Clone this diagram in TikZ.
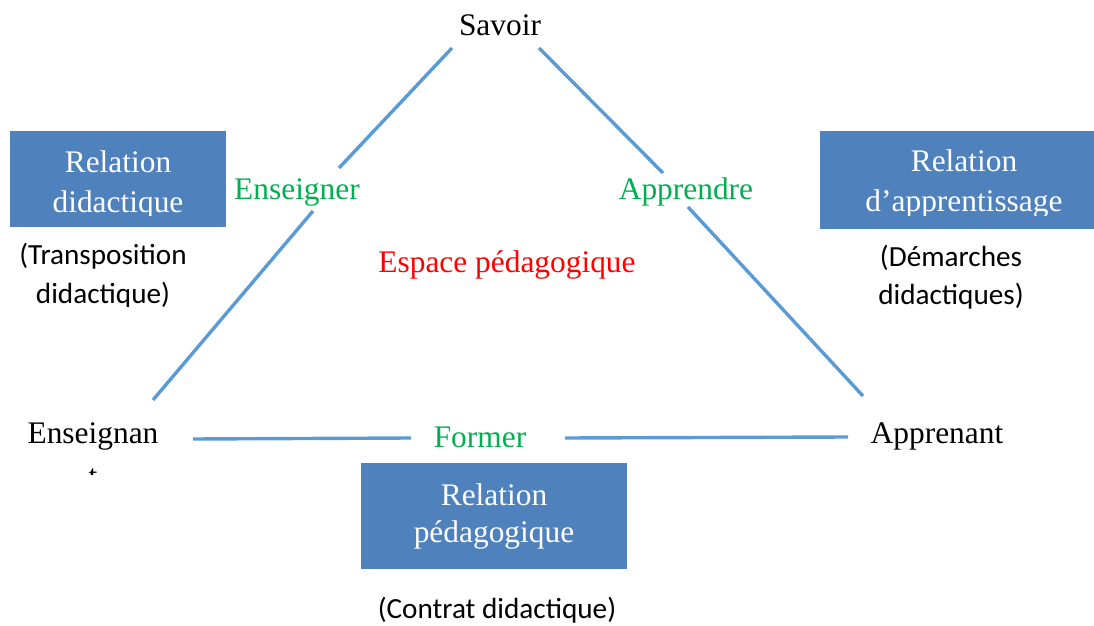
\documentclass[tikz,border=0pt]{standalone}
\usepackage{fontspec}
\setmainfont{Liberation Serif}
\newfontfamily\calibri{Carlito}
\usetikzlibrary{calc}

\definecolor{boxblue}{HTML}{4F81BD}
\definecolor{lineblue}{HTML}{5B9BD5}
\definecolor{verbgreen}{HTML}{00B050}
\definecolor{spacered}{HTML}{FF0000}

\begin{document}
\begin{tikzpicture}[x=0.5pt, y=-0.5pt,
	every node/.style={inner sep=0pt, anchor=base, align=center,
		font=\fontsize{15.7}{20}\selectfont},
	relbox/.style={rectangle, fill=boxblue, anchor=center},
	boxtext/.style={text=white},
	verb/.style={text=verbgreen},
	note/.style={font=\calibri\fontsize{14.6}{19.5}\selectfont},
	side/.style={draw=lineblue, line width=1.7pt}]
	\useasboundingbox (0,0) rectangle (1094,626);

	% the three relations
	\node[relbox, minimum width=108pt, minimum height=48pt] (didbox) at (118,179) {};
	\node[relbox, minimum width=137pt, minimum height=49pt] (appbox) at (957,180) {};
	\node[relbox, minimum width=133pt, minimum height=53pt] (pedbox) at (494,516) {};

	% multi-line texts: placed at the baseline of their last line
	\begin{scope}
		\clip (0,0) rectangle (1094,216);
		\node[boxtext] (didtext) at (118,213) {Relation\\didactique};
		\node[boxtext] (apptext) at (964,212) {Relation\\d’apprentissage};
	\end{scope}
	\node[boxtext, font=\fontsize{15.7}{18.5}\selectfont] (pedtext) at (494,542)
		{Relation\\pédagogique};

	\begin{scope}
		\clip (0,0) rectangle (1094,307);
		\node[note] (transpo) at (103,303) {(Transposition\\didactique)};
	\end{scope}
	\node[note] (demarche) at (951,305) {(Démarches\\didactiques)};
	\node[note] (contrat)  at (497,618) {(Contrat didactique)};

	% triangle
	\node (savoir) at (500,36) {Savoir};
	\begin{scope}
		\clip (0,0) rectangle (1094,474);
		\node[font=\fontsize{15.7}{21.5}\selectfont] (enseignant) at (93,486)
			{Enseignan\\t};
	\end{scope}
	\node (apprenant) at (937,443) {Apprenant};

	\node[verb] (enseigner) at (297,200) {Enseigner};
	\node[verb] (apprendre) at (686,200) {Apprendre};
	\node[verb] (former)    at (480,447) {Former};
	\node[text=spacered] (espace) at (507,272) {Espace pédagogique};

	\coordinate (sa1) at (452,48);
	\coordinate (sa2) at (339,168);
	\coordinate (sa3) at (313,211);
	\coordinate (sa4) at (153,400);
	\coordinate (sb1) at (539,48);
	\coordinate (sb2) at (663,173);
	\coordinate (sb3) at (688,207);
	\coordinate (sb4) at (863,396);
	\coordinate (ea1) at (193,439);
	\coordinate (ea2) at (411,438);
	\coordinate (ea3) at (565,438);
	\coordinate (ea4) at (848,437);

	\draw[side] (sa1) -- (sa2) (sa3) -- (sa4);
	\draw[side] (sb1) -- (sb2) (sb3) -- (sb4);
	\draw[side] (ea1) -- (ea2) (ea3) -- (ea4);
\end{tikzpicture}
\end{document}
